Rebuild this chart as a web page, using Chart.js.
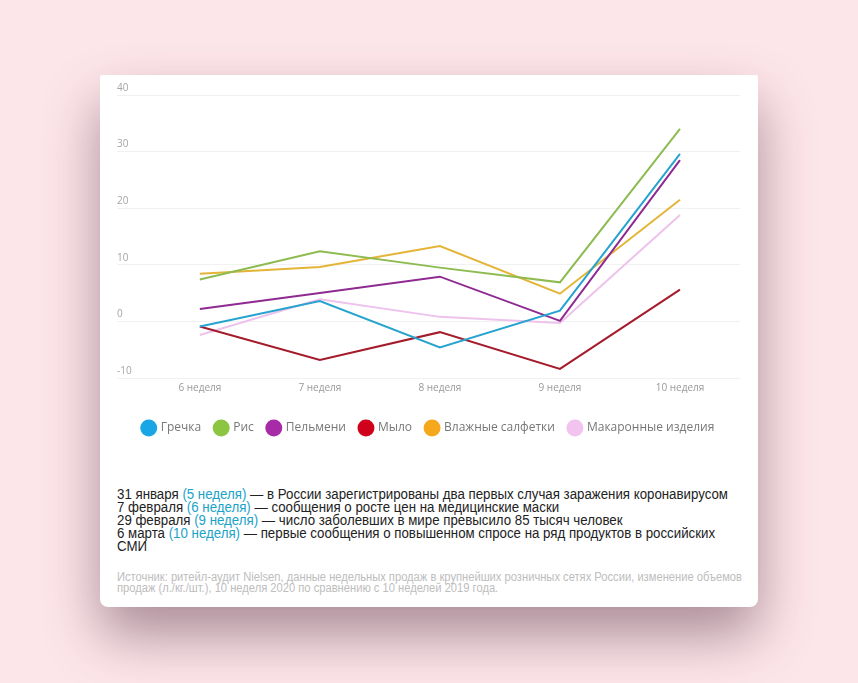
<!DOCTYPE html>
<html lang="ru">
<head>
<meta charset="utf-8">
<title>Продажи</title>
<script src="https://cdn.jsdelivr.net/npm/chart.js@4.4.1/dist/chart.umd.min.js"></script>
<style>
  html, body { margin: 0; padding: 0; }
  body {
    width: 858px; height: 683px; overflow: hidden;
    background: #fde6ea;
    font-family: "Liberation Sans", Arial, sans-serif;
  }
  .card {
    position: absolute; left: 100px; top: 75px; width: 658px; height: 532px;
    background: #fff; border-radius: 2px 2px 8px 8px;
    box-shadow: 0 28px 55px rgba(70, 30, 50, 0.45);
  }
  .chart-box { position: absolute; left: 0; top: 0; width: 658px; height: 380px; }
  .notes, .source {
    position: absolute; left: 17px; white-space: nowrap;
    transform-origin: 0 0;
  }
  .notes { top: 413px; font-size: 14px; line-height: 13px; color: #222; }
  .notes span { color: #1aa3c8; }
  .source { top: 497px; font-size: 12px; line-height: 11px; color: #bdbdbd; }
  .line { display: block; }
</style>
</head>
<body>
<div class="card">
  <div class="chart-box"><canvas id="salesChart"></canvas></div>
  <div class="notes" data-fit="611">
    <span class="line" style="color:#222">31 января <span>(5 неделя)</span> — в России зарегистрированы два первых случая заражения коронавирусом</span>
    <span class="line" style="color:#222">7 февраля <span>(6 неделя)</span> — сообщения о росте цен на медицинские маски</span>
    <span class="line" style="color:#222">29 февраля <span>(9 неделя)</span> — число заболевших в мире превысило 85 тысяч человек</span>
    <span class="line" style="color:#222">6 марта <span>(10 неделя)</span> — первые сообщения о повышенном спросе на ряд продуктов в российских</span>
    <span class="line" style="color:#222">СМИ</span>
  </div>
  <div class="source" data-fit="625">
    <span class="line">Источник: ритейл-аудит Nielsen, данные недельных продаж в крупнейших розничных сетях России, изменение объемов</span>
    <span class="line">продаж (л./кг./шт.), 10 неделя 2020 по сравнению с 10 неделей 2019 года.</span>
  </div>
</div>
<script>
  // недели и изменения продаж, %
  const weeks = [6, 7, 8, 9, 10];
  const seriesNames = ['Гречка', 'Рис', 'Пельмени', 'Мыло', 'Влажные салфетки', 'Макаронные изделия'];
  const grechka = [-0.9, 3.6, -4.6, 1.9, 29.6];
  const ris = [7.4, 12.4, 9.5, 6.9, 34.0];
  const pelmeni = [2.2, 5.0, 7.9, 0.1, 28.5];
  const mylo = [-0.9, -6.8, -1.9, -8.4, 5.6];
  const salfetki = [8.4, 9.6, 13.3, 4.9, 21.5];
  const makarony = [-2.4, 3.9, 0.8, -0.3, 18.8];
  const yTicks = [-10, 0, 10, 20, 30, 40];

  const lineColors = ['#27a3cf', '#8dbb50', '#8e2a92', '#a41b2b', '#e4b436', '#edc2ec'];
  const dotColors = ['#19a6e6', '#8cc542', '#a72aa7', '#d0021b', '#f6a81c', '#f2c3ef'];
  const values = [grechka, ris, pelmeni, mylo, salfetki, makarony];

  // сжать текст по ширине первой строки, как в оригинале
  document.querySelectorAll('[data-fit]').forEach((el) => {
    const w = el.querySelector('.line').getBoundingClientRect().width;
    el.style.transform = 'scaleX(' + (Number(el.dataset.fit) / w) + ')';
  });

  const datasets = seriesNames.map((name, i) => ({
    label: name,
    data: weeks.map((w, j) => ({ x: w, y: values[i][j] })),
    borderColor: lineColors[i],
    backgroundColor: dotColors[i],
    borderWidth: 2,
    pointRadius: 0,
    tension: 0,
  }));

  // чуть больше места между осью и легендой
  const legendGap = {
    id: 'legendGap',
    beforeInit(chart) {
      const fit = chart.legend.fit;
      chart.legend.fit = function () {
        fit.call(this);
        this.height += 0;
      };
    },
  };

  new Chart(document.getElementById('salesChart'), {
    type: 'line',
    data: { datasets },
    plugins: [legendGap],
    options: {
      responsive: true,
      maintainAspectRatio: false,
      animation: false,
      layout: { padding: { left: 17, right: 18, top: 20, bottom: 11 } },
      plugins: {
        tooltip: { enabled: false },
        legend: {
          position: 'bottom',
          labels: {
            color: '#777',
            font: { family: 'Open Sans', size: 12 },
            usePointStyle: true,
            pointStyle: 'circle',
            boxWidth: 12,
            boxHeight: 12,
            padding: 14,
            generateLabels: (chart) => chart.data.datasets.map((ds, i) => ({
              text: ds.label,
              fillStyle: dotColors[i],
              strokeStyle: dotColors[i],
              lineWidth: 0,
              pointStyle: 'circle',
              fontColor: '#777',
              datasetIndex: i,
            })),
          },
        },
      },
      scales: {
        x: {
          type: 'linear',
          min: 5.31,
          max: 10.5,
          afterBuildTicks: (s) => { s.ticks = weeks.map((w) => ({ value: w })); },
          afterFit: (s) => { s.height += 10; },
          grid: { display: false, drawTicks: false },
          border: { display: false },
          ticks: {
            color: '#999',
            font: { family: 'Open Sans', size: 10 },
            padding: 4,
            maxRotation: 0,
            callback: (v) => v + ' неделя',
          },
        },
        y: {
          min: -10,
          max: 40,
          afterBuildTicks: (s) => { s.ticks = yTicks.map((v) => ({ value: v })); },
          grid: { color: '#f1f1f1', drawTicks: false },
          border: { display: false },
          ticks: {
            mirror: true,
            padding: 0,
            labelOffset: -7,
            color: '#a5a5a5',
            font: { family: 'Open Sans', size: 10 },
          },
        },
      },
    },
  });
</script>
</body>
</html>
